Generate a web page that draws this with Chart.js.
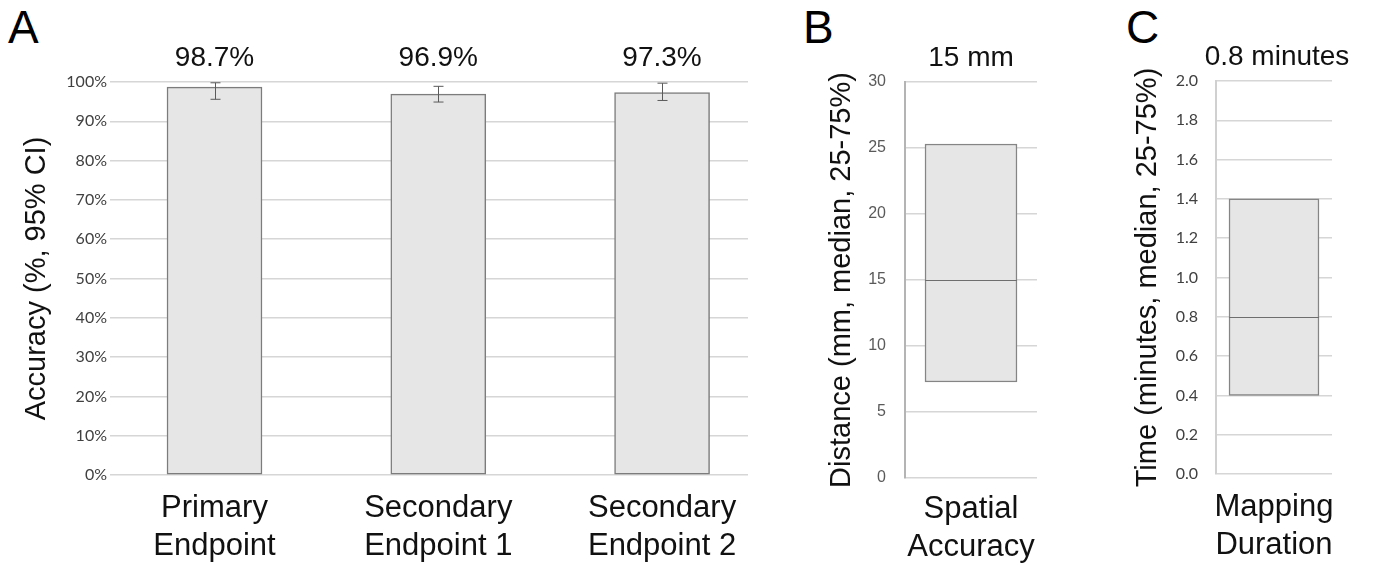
<!DOCTYPE html>
<html>
<head>
<meta charset="utf-8">
<script src="https://cdn.jsdelivr.net/npm/chart.js@4/dist/chart.umd.min.js"></script>
<style>
  html, body { margin: 0; padding: 0; background: #fff; }
  body { width: 1373px; height: 566px; position: relative; overflow: hidden; }
  canvas { position: absolute; top: 0; }
  .letter { position: absolute; top: 4px; font: 46px "Liberation Sans", Arial, sans-serif; line-height: 46px; color: #000; }
</style>
</head>
<body>
<div class="letter" style="left:8px">A</div>
<div class="letter" style="left:803px">B</div>
<div class="letter" style="left:1126px">C</div>
<canvas id="chartA" width="760" height="566" style="left:0"></canvas>
<canvas id="chartB" width="300" height="566" style="left:770px"></canvas>
<canvas id="chartC" width="298" height="566" style="left:1075px"></canvas>
<script>
// panel A - accuracy
const endpoints = [['Primary', 'Endpoint'], ['Secondary', 'Endpoint 1'], ['Secondary', 'Endpoint 2']];
const accuracy = [98.7, 96.9, 97.3];
const ciLow = [95.6, 94.9, 95.3];
const ciHigh = [99.8, 98.9, 99.7];

// panel B - spatial accuracy (mm)
const spatialLabel = [['Spatial', 'Accuracy']];
const spatialQ1 = 7.27;
const spatialQ3 = 25.3;
const spatialMedian = 15;

// panel C - mapping duration (minutes)
const durationLabel = [['Mapping', 'Duration']];
const durationQ1 = 0.4;
const durationQ3 = 1.4;
const durationMedian = 0.8;

const SANS = '"Liberation Sans", Arial, sans-serif';
const GRID = '#d6d6d6';

// error bars, median lines and value labels drawn through the chart's scales
const overlay = {
  id: 'overlay',
  afterDatasetsDraw(chart, args, opts) {
    const ctx = chart.ctx;
    const y = chart.scales.y;
    const bars = chart.getDatasetMeta(0).data;
    ctx.save();
    bars.forEach((bar, i) => {
      if (opts.low) {
        const top = y.getPixelForValue(opts.high[i]);
        const bot = y.getPixelForValue(opts.low[i]);
        const bx = Math.round(bar.x) + 0.5;
        ctx.strokeStyle = '#5a5a5a';
        ctx.lineWidth = 1;
        ctx.beginPath();
        ctx.moveTo(bx, top); ctx.lineTo(bx, bot);
        ctx.moveTo(bx - 5, top); ctx.lineTo(bx + 5, top);
        ctx.moveTo(bx - 5, bot); ctx.lineTo(bx + 5, bot);
        ctx.stroke();
      }
      if (opts.median !== undefined) {
        const my = Math.round(y.getPixelForValue(opts.median)) + 0.5;
        ctx.strokeStyle = '#6e6e6e';
        ctx.lineWidth = 1;
        ctx.beginPath();
        ctx.moveTo(bar.x - bar.width / 2, my);
        ctx.lineTo(bar.x + bar.width / 2, my);
        ctx.stroke();
      }
      if (opts.labels) {
        ctx.fillStyle = '#111';
        ctx.font = '28px ' + SANS;
        ctx.textAlign = 'center';
        ctx.textBaseline = 'middle';
        ctx.fillText(opts.labels[i], bar.x + (opts.dx || 0), chart.chartArea.top - 24);
      }
    });
    ctx.restore();
  }
};

function yAxis(cfg) {
  return {
    min: cfg.min, max: cfg.max,
    afterFit: s => { s.width = cfg.width; },
    grid: { color: GRID, lineWidth: 1.5, drawTicks: false },
    border: cfg.border ? { display: true, color: cfg.border, width: 2 } : { display: false },
    ticks: {
      stepSize: cfg.step, padding: cfg.pad, color: cfg.tickColor,
      font: { family: cfg.tickFont, size: 16 },
      callback: cfg.fmt
    },
    title: {
      display: true, text: cfg.title, color: '#111',
      font: { family: SANS, size: 29 },
      padding: { top: cfg.titlePad, bottom: 0 }
    }
  };
}

function xTicks(pad) {
  return { color: '#111', font: { family: SANS, size: 31, lineHeight: 1.22 }, padding: pad, maxRotation: 0, autoSkip: false };
}

new Chart(document.getElementById('chartA'), {
  type: 'bar',
  data: {
    datasets: [{
      data: accuracy.map((v, i) => ({ x: i, y: v })),
      backgroundColor: '#e6e6e6', borderColor: '#7c7c7c', borderWidth: 1.5,
      borderSkipped: false, barThickness: 95
    }]
  },
  plugins: [overlay],
  options: {
    responsive: false, animation: false,
    layout: { padding: { left: 0, right: 12, top: 82, bottom: 0 } },
    plugins: {
      legend: { display: false }, tooltip: { enabled: false },
      overlay: { low: ciLow, high: ciHigh, labels: accuracy.map(v => v.toFixed(1) + '%') }
    },
    scales: {
      x: {
        type: 'linear', min: -0.467, max: 2.384, offset: false,
        afterFit: s => { s.height = 91; },
        grid: { display: false, offset: false }, border: { display: false },
        ticks: Object.assign(xTicks(7), { stepSize: 1, includeBounds: false, callback: v => endpoints[v] })
      },
      y: yAxis({ min: 0, max: 100, step: 10, width: 110, pad: 3, tickColor: '#404040', tickFont: 'Lato',
        fmt: v => v + '%', title: 'Accuracy (%, 95% CI)', titlePad: 20 })
    }
  }
});

new Chart(document.getElementById('chartB'), {
  type: 'bar',
  data: {
    labels: spatialLabel,
    datasets: [{
      data: [[spatialQ1, spatialQ3]],
      backgroundColor: '#e6e6e6', borderColor: '#858585', borderWidth: 1.5,
      borderSkipped: false, barThickness: 92
    }]
  },
  plugins: [overlay],
  options: {
    responsive: false, animation: false,
    layout: { padding: { left: 0, right: 33, top: 82, bottom: 0 } },
    plugins: {
      legend: { display: false }, tooltip: { enabled: false },
      overlay: { median: spatialMedian, labels: [spatialMedian + ' mm'] }
    },
    scales: {
      x: {
        afterFit: s => { s.height = 88; },
        grid: { display: false }, border: { display: false },
        ticks: xTicks(5)
      },
      y: yAxis({ min: 0, max: 30, step: 5, width: 135, pad: 19, tickColor: '#5a5a5a', tickFont: SANS,
        border: '#b4b4b4', fmt: v => v, title: 'Distance (mm, median, 25-75%)', titlePad: 55 })
    }
  }
});

new Chart(document.getElementById('chartC'), {
  type: 'bar',
  data: {
    labels: durationLabel,
    datasets: [{
      data: [[durationQ1, durationQ3]],
      backgroundColor: '#e6e6e6', borderColor: '#858585', borderWidth: 1.5,
      borderSkipped: false, barThickness: 90
    }]
  },
  plugins: [overlay],
  options: {
    responsive: false, animation: false,
    layout: { padding: { left: 0, right: 41, top: 81, bottom: 0 } },
    plugins: {
      legend: { display: false }, tooltip: { enabled: false },
      overlay: { median: durationMedian, labels: [durationMedian + ' minutes'], dx: 3 }
    },
    scales: {
      x: {
        afterFit: s => { s.height = 92; },
        grid: { display: false }, border: { display: false },
        ticks: xTicks(7)
      },
      y: yAxis({ min: 0, max: 2, step: 0.2, width: 141, pad: 18, tickColor: '#404040', tickFont: 'Lato',
        border: '#d0d0d0', fmt: v => v.toFixed(1), title: 'Time (minutes, median, 25-75%)', titlePad: 56 })
    }
  }
});
</script>
</body>
</html>
